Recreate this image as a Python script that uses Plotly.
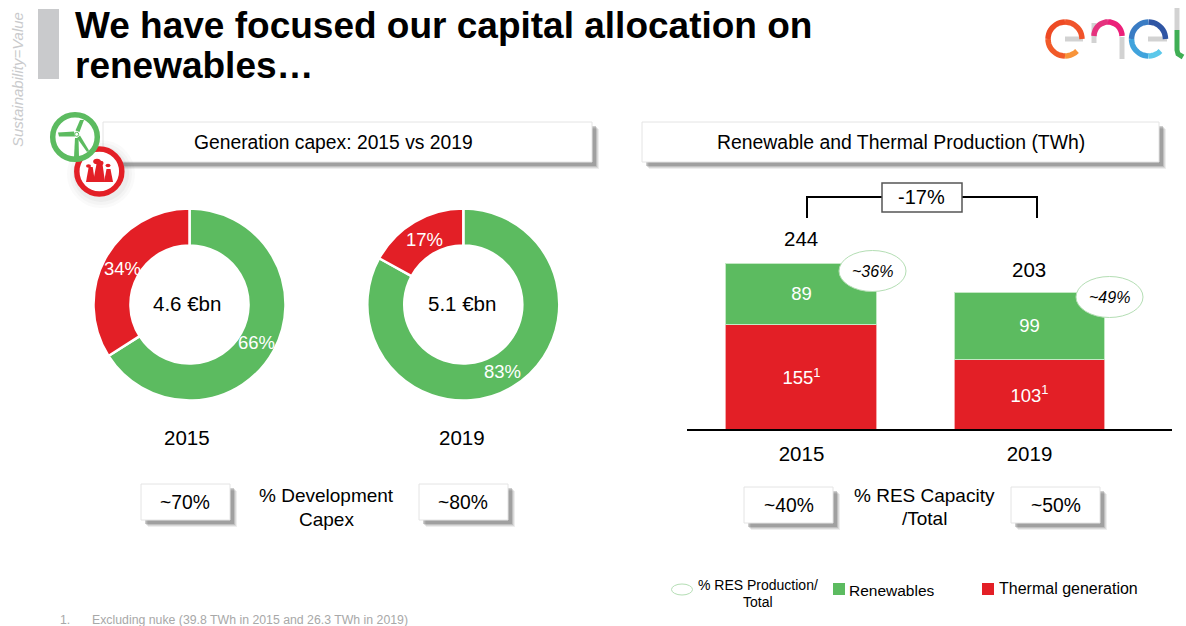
import math
import plotly.graph_objects as go

# ---------- data ----------
years = ["2015", "2019"]
renewables_twh = [89, 99]
thermal_twh = [155, 103]
totals_twh = [244, 203]
thermal_labels = ["155<sup>1</sup>", "103<sup>1</sup>"]
capex_labels = ["Renewables", "Thermal"]
capex_2015 = [66, 34]
capex_2019 = [83, 17]
capex_totals = ["4.6 €bn", "5.1 €bn"]
res_share = ["~36%", "~49%"]

GREEN = "#5cbb60"
RED = "#e31f26"
FONT = "Liberation Sans"
W, H = 1186, 626

fig = go.Figure()
shapes, notes = [], []


def pie_domain(cx, cy, r):
    return dict(x=[(cx - r) / W, (cx + r) / W], y=[1 - (cy + r) / H, 1 - (cy - r) / H])


def px(x, y, text, size=18.5, color="black", anchor="center", **kw):
    notes.append(dict(xref="x3", yref="y3", x=x - (2 if anchor == "left" else 0), y=y - 1, text=text,
                      showarrow=False, xanchor=anchor, yanchor="middle",
                      font=dict(family=FONT, size=size, color=color), **kw))


for vals, cx in ((capex_2015, 189.5), (capex_2019, 463.3)):
    fig.add_trace(go.Pie(
        labels=capex_labels, values=vals, hole=0.615, sort=False, direction="clockwise",
        rotation=0, domain=pie_domain(cx, 304.5, 96),
        marker=dict(colors=[GREEN, RED], line=dict(color="white", width=2.5)),
        textinfo="none", showlegend=False, hoverinfo="label+percent",
    ))
    # slice labels sit on the ring at each slice's mid-angle
    start = 0
    for v in vals:
        mid = math.radians((start + v / 2) * 3.6)
        start += v
        px(cx + 77 * math.sin(mid), 304.5 - 77 * math.cos(mid) + 2, f"{v}%", size=18.5, color="white")

fig.add_trace(go.Bar(x=years, y=thermal_twh, name="Thermal generation", text=thermal_labels,
                     marker=dict(color=RED, line=dict(color="#f4a6a8", width=1)),
                     textposition="inside", insidetextanchor="middle", textangle=0, constraintext="none",
                     textfont=dict(family=FONT, size=18.5, color="white"), showlegend=False))
fig.add_trace(go.Bar(x=years, y=renewables_twh, name="Renewables", text=renewables_twh,
                     marker=dict(color=GREEN, line=dict(color="#c4e8c4", width=1)),
                     textposition="inside", insidetextanchor="middle", textangle=0, constraintext="none",
                     textfont=dict(family=FONT, size=18.5, color="white"), showlegend=False))


def rect(x0, y0, x1, y1, fill, line=None, lw=1):
    shapes.append(dict(type="rect", xref="x3", yref="y3", x0=x0, y0=y0, x1=x1, y1=y1, fillcolor=fill,
                       line=dict(color=line or "rgba(0,0,0,0)", width=lw if line else 0)))


def card(x0, y0, x1, y1):
    for d, a in ((7, .10), (6, .14), (5, .2), (4, .3)):
        rect(x0 + d, y0 + d, x1 + d, y1 + d, f"rgba(90,90,90,{a})")
    rect(x0, y0, x1, y1, "white", "#e4e4e4", 1)


def oval(cx, cy, rx, ry, fill, line, lw=1):
    shapes.append(dict(type="circle", xref="x3", yref="y3", x0=cx - rx, x1=cx + rx, y0=cy - ry, y1=cy + ry,
                       fillcolor=fill, line=dict(color=line, width=lw)))


def poly(pts, fill):
    path = "M " + " L ".join(f"{x:.1f} {y:.1f}" for x, y in pts) + " Z"
    shapes.append(dict(type="path", xref="x3", yref="y3", path=path, fillcolor=fill, line=dict(width=0)))


def stroke(pts, color, width):
    path = "M " + " L ".join(f"{x:.1f} {y:.1f}" for x, y in pts)
    shapes.append(dict(type="path", xref="x3", yref="y3", path=path, line=dict(color=color, width=width)))


def arc(cx, cy, r, a0, a1, color, width=5.5):
    n = max(3, int(abs(a1 - a0) / 8))
    stroke([(cx + r * math.cos(math.radians(a0 + (a1 - a0) * i / n)),
             cy + r * math.sin(math.radians(a0 + (a1 - a0) * i / n))) for i in range(n + 1)], color, width)


# header
rect(38, 9, 59, 79, "#c9cacc")
px(17, 81, "<i>Sustainability=Value</i>", size=15, color="#c9cacc", textangle=-90)
px(75, 26, "<b>We have focused our capital allocation on</b>", size=37, anchor="left")
px(75, 66, "<b>renewables…</b>", size=37, anchor="left")

# logo
GREY = "#d2d2d2"
stroke([(1065, 39), (1083, 39)], GREY, 5)
arc(1065, 39, 17, 0, -90, "#f0532a")
arc(1065, 39, 17, -90, -180, "#ee4a24")
arc(1065, 39, 17, -180, -270, "#f15a29")
arc(1065, 39, 17, 90, 45, "#f8943a")
stroke([(1094, 23), (1094, 43)], GREY, 5)
stroke([(1122, 37), (1122, 59)], GREY, 5)
arc(1108, 36, 14, -180, -90, "#e5327e")
arc(1108, 36, 14, -90, 0, "#ec1f79")
stroke([(1148, 39), (1167, 39)], GREY, 5)
arc(1148.5, 39, 17, 0, -90, "#2f55a4")
arc(1148.5, 39, 17, -90, -180, "#3a7cc4")
arc(1148.5, 39, 17, -180, -270, "#40a3dc")
arc(1148.5, 39, 17, 90, 45, "#5cc8ea")
stroke([(1177, 8), (1177, 30)], GREY, 5)
stroke([(1177, 30), (1177, 50), (1178, 54), (1183, 57)], "#3fae54", 5)

# section cards
card(103, 122, 592, 162)
px(333.5, 143, "Generation capex: 2015 vs 2019", size=19.3)
card(642, 122, 1159, 162)
px(901, 143, "Renewable and Thermal Production (TWh)", size=19.4)

# icons
for d, a in ((9, .03), (6, .04), (3, .05)):
    oval(101, 174, 25 + d, 25 + d, f"rgba(90,90,90,{a})", "rgba(0,0,0,0)", 0)
oval(99.3, 171.5, 22.5, 22.5, "white", RED, 5.5)
poly([(86, 182), (95, 182), (92.7, 167), (88.7, 167)], RED)
poly([(93, 182), (105, 182), (102.5, 164), (96.5, 164)], RED)
poly([(104, 182), (113, 182), (110.5, 169), (106.5, 169)], RED)
oval(88.5, 166, 2.5, 1.8, RED, RED, 0)
oval(97, 161.5, 3.8, 2.8, RED, RED, 0)
oval(100.5, 163, 3, 2.2, RED, RED, 0)
oval(108, 165.5, 2.5, 1.8, RED, RED, 0)
oval(75, 137, 22.3, 22.3, "white", GREEN, 5.5)
poly([(58, 132.5), (74, 131.5), (75, 136.5), (59, 136.5)], GREEN)
poly([(84, 120), (79.5, 132), (75.5, 130.5), (80, 120)], GREEN)
poly([(87, 152), (77, 138), (80, 135.5), (89, 150.5)], GREEN)
poly([(75, 138), (78.5, 138), (79, 157), (74, 157)], GREEN)
oval(76.7, 134.3, 2, 2, "white", GREEN, 1)

# donut centres and captions
for text, cx, year in zip(capex_totals, (187, 462), years):
    px(cx, 304, text, size=20.5)
    px(cx, 438, year, size=20.5)

# metric cards
card(141, 484, 230, 520)
px(185, 503, "~70%", size=19.3)
card(419, 484, 508, 520)
px(463, 503, "~80%", size=19.3)
px(326, 496, "% Development", size=19)
px(326, 520, "Capex", size=19)
card(744, 487, 833, 523)
px(789, 506, "~40%", size=19.3)
card(1011, 487, 1100, 523)
px(1056, 506, "~50%", size=19.3)
px(924, 496, "% RES Capacity", size=19)
px(924, 519, "/Total", size=19)

# bracket
stroke([(807, 218), (807, 197), (882, 197)], "black", 2)
stroke([(962, 197), (1037, 197), (1037, 218)], "black", 2)
rect(882, 183, 962, 212, "white", "#555555", 1.5)
px(921, 198, "-17%", size=20)

# share callouts
for text, cx, cy in zip(res_share, (872.5, 1109.5), (271, 297)):
    oval(cx, cy, 33.5, 20.5, "white", "#b4deb4", 1)
    px(cx, cy + 1, f"<i>{text}</i>", size=16)

# legend
oval(682, 589.5, 10.5, 5.5, "white", "#b4deb4", 1)
px(758, 586, "% RES Production/", size=14)
px(758, 603, "Total", size=14)
rect(833, 583, 845, 595, GREEN)
px(849, 591, "Renewables", size=15.5, anchor="left")
rect(982, 583, 994, 595, RED)
px(999, 589, "Thermal generation", size=16, anchor="left")

# footnote
px(60, 621, "1.", size=12.3, color="#a8a8a8", anchor="left")
px(92, 621, "Excluding nuke (39.8 TWh in 2015 and 26.3 TWh in 2019)", size=12.3, color="#a8a8a8", anchor="left")

# totals over the bars use the bar axes (category positions)
for i, (total, shift) in enumerate(zip(totals_twh, (25, 22))):
    notes.append(dict(xref="x", yref="y", x=i, y=total, text=str(total), showarrow=False, yanchor="middle",
                      yshift=shift, font=dict(family=FONT, size=20.5, color="black")))

fig.update_layout(
    width=W, height=H, margin=dict(l=0, r=0, t=0, b=0), paper_bgcolor="white", plot_bgcolor="rgba(0,0,0,0)",
    barmode="stack", bargap=0.338, showlegend=False, shapes=shapes, annotations=notes,
    xaxis=dict(domain=[687 / W, 1172 / W], type="category", categoryorder="array", categoryarray=years,
               range=[-0.502, 1.625], showline=True, linecolor="black", linewidth=2, showgrid=False,
               ticks="outside", ticklen=5, tickcolor="rgba(0,0,0,0)", zeroline=False, anchor="y",
               tickfont=dict(family=FONT, size=20.5, color="black")),
    yaxis=dict(domain=[1 - 429 / H, 1 - 260 / H], range=[0, 249.6], visible=False, anchor="x"),
    xaxis3=dict(domain=[0, 1], range=[0, W], visible=False, anchor="y3"),
    yaxis3=dict(domain=[0, 1], range=[H, 0], visible=False, anchor="x3"),
)

fig.write_html("out.html", config=dict(displayModeBar=False),
               post_script="document.body.style.margin='0';")
